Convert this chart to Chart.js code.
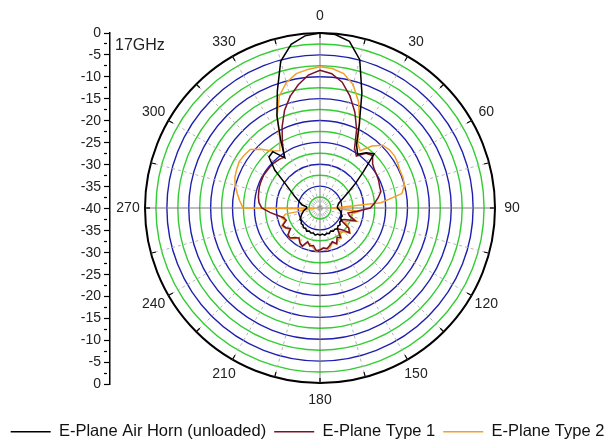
<!DOCTYPE html>
<html>
<head>
<meta charset="utf-8">
<script src="https://cdn.jsdelivr.net/npm/chart.js@4.4.1/dist/chart.umd.min.js"></script>
<style>
html,body{margin:0;padding:0;background:#fff;}
#wrap{width:615px;height:443px;position:relative;}
</style>
</head>
<body>
<div id="wrap"><canvas id="c"></canvas></div>
<script>
// Angle categories (degrees, clockwise from top)
const ANGLES = [0,5,10,15,20,25,30,35,40,45,50,55,60,65,70,75,80,85,90,95,100,105,110,115,120,125,130,135,140,145,150,155,160,165,170,175,180,185,190,195,200,205,210,215,220,225,230,235,240,245,250,255,260,265,270,275,280,285,290,295,300,305,310,315,320,325,330,335,340,345,350,355];
// Angles that carry a label around the dial
const ANGLE_LABELS = [0,30,60,90,120,150,180,210,240,270,300,330];
const SERIES_NAMES = ['E-Plane Air Horn (unloaded)', 'E-Plane Type 1', 'E-Plane Type 2'];
const FREQ_LABEL = '17GHz';

// dB values, one per angle in ANGLES
const AIR_HORN = [0,-0.2,-1.3,-4.9,-12,-18.7,-23.3,-25,-23.5,-22.5,-27,-30,-32.3,-33.8,-34.8,-35.5,-35.8,-36,-36,-35.6,-35.2,-35,-34.6,-34.8,-34.3,-34.5,-34,-34.2,-33.8,-34.1,-33.9,-34.2,-33.8,-34,-33.7,-34,-33.8,-34,-33.7,-34.1,-33.9,-34.2,-33.9,-34.3,-34.1,-34.5,-34.4,-34.8,-34.7,-35.2,-35.5,-35.9,-36.2,-36.6,-37,-36.9,-35.8,-35.3,-34.6,-33.6,-32.3,-30.3,-26.5,-23.5,-23.2,-26,-22,-16.7,-11.5,-5.3,-2,-0.5];
const TYPE1 = [-8.5,-9.2,-10.8,-13.5,-16.7,-20.2,-24.2,-25.5,-23.7,-23,-24.3,-24.8,-25,-25.2,-25.5,-25.6,-26.5,-27.5,-28.5,-31.5,-33.5,-33,-31.5,-33.8,-34.5,-32,-31.2,-33,-33.8,-31.8,-32.2,-31,-31.8,-31.2,-30.6,-30.8,-30.4,-30.2,-31.3,-31,-31.8,-30.4,-30.8,-31.6,-31.2,-30.3,-30.4,-31.8,-31,-30.6,-31.8,-31.4,-30.2,-28.5,-26.7,-26,-25.7,-25.5,-25.3,-25.2,-25.1,-25.2,-25.2,-25.3,-25.5,-25.8,-22.8,-19.5,-16.3,-13.6,-11.4,-9.5];
const TYPE2 = [-7.7,-8,-8.8,-10.8,-14.2,-18.6,-22.8,-24,-21.5,-19.7,-19.3,-19.2,-19.5,-19.8,-19.8,-20,-21,-26,-37,-31,-32.5,-32.8,-31,-33,-33.5,-31.8,-31,-32.2,-33,-31.5,-31.8,-30.8,-31.6,-30.8,-30.2,-30.9,-30.6,-30,-30.8,-31.4,-31.5,-30.2,-30.9,-31.8,-30.8,-30.1,-30.6,-31.5,-30.8,-30.3,-31.5,-31,-32,-38,-22.4,-21.6,-20.8,-19.9,-19.3,-19,-18.7,-18.9,-19.2,-21,-23,-24,-21.6,-16.8,-12.8,-10.3,-8.8,-8.2];

const FONT = "'Liberation Sans', Arial, sans-serif";
Chart.defaults.font.family = FONT;
Chart.defaults.color = '#222';

const BLUE = '#1f1fae';
const GREEN = '#33cc33';

const decor = {
  id: 'decor',
  beforeDatasetsDraw(chart) {
    const s = chart.scales.r;
    const ctx = chart.ctx;
    ctx.save();
    ctx.strokeStyle = '#000';
    ctx.lineWidth = 1.2;
    ANGLES.forEach((a, i) => {
      if (a % 15 !== 0) return;
      const p1 = s.getPointPosition(i, s.drawingArea);
      const p0 = s.getPointPosition(i, s.drawingArea - 5);
      ctx.beginPath();
      ctx.moveTo(p0.x, p0.y);
      ctx.lineTo(p1.x, p1.y);
      ctx.stroke();
    });
    ctx.restore();
  },
  afterDraw(chart) {
    const s = chart.scales.r;
    const ctx = chart.ctx;
    ctx.save();
    ctx.fillStyle = '#222';
    ctx.font = '14px ' + FONT;
    ctx.textAlign = 'center';
    ctx.textBaseline = 'middle';
    ANGLE_LABELS.forEach(a => {
      const i = ANGLES.indexOf(a);
      const p = s.getPointPosition(i, s.drawingArea + 17);
      ctx.fillText(String(a), p.x, p.y);
    });
    ctx.font = '16px ' + FONT;
    ctx.textAlign = 'left';
    ctx.textBaseline = 'alphabetic';
    ctx.fillText(FREQ_LABEL, chart.chartArea.left + 5, chart.chartArea.top + 17);
    ctx.restore();
  }
};

const mk = (label, data, color) => ({
  label, data, borderColor: color, backgroundColor: color,
  borderWidth: 1.5, pointRadius: 0, pointHoverRadius: 0, fill: false, tension: 0, clip: false
});

new Chart(document.getElementById('c'), {
  type: 'radar',
  data: {
    labels: ANGLES,
    datasets: [
      mk(SERIES_NAMES[0], AIR_HORN, '#000000'),
      mk(SERIES_NAMES[1], TYPE1, '#7a1228'),
      mk(SERIES_NAMES[2], TYPE2, '#f2a02a')
    ]
  },
  plugins: [decor],
  options: {
    responsive: true,
    maintainAspectRatio: false,
    animation: false,
    devicePixelRatio: 1,
    layout: { padding: { top: 33, left: 0, right: 0, bottom: -7 } },
    plugins: {
      tooltip: { enabled: false },
      legend: {
        display: true,
        position: 'bottom',
        labels: {
          usePointStyle: true,
          pointStyle: 'line',
          pointStyleWidth: 40,
          padding: 8,
          color: '#111',
          font: { size: 16.5 }
        }
      }
    },
    scales: {
      r: {
        min: -40, max: 0, startAngle: 0,
        ticks: { display: false, stepSize: 2.5 },
        pointLabels: { display: false },
        grid: {
          circular: true,
          color: c => {
            const v = c.tick ? c.tick.value : -40;
            if (v === 0) return '#000';
            return (Math.abs(v) % 5 === 0) ? BLUE : GREEN;
          },
          lineWidth: c => (c.tick && c.tick.value === 0) ? 2 : 1.4
        },
        angleLines: {
          display: true,
          color: c => {
            const a = ANGLES[c.index];
            if (a % 90 === 0) return '#7a7a7a';
            return a % 15 === 0 ? '#b4b4b4' : 'rgba(0,0,0,0)';
          },
          lineWidth: c => (ANGLES[c.index] % 15 === 0 ? 1 : 0),
          borderDash: c => (ANGLES[c.index] % 90 === 0 ? [] : [3, 3])
        }
      },
      y: {
        type: 'linear', axis: 'y', position: 'left',
        min: -40, max: 40,
        afterFit: s => { s.width = 110; },
        ticks: {
          stepSize: 2.5, autoSkip: false, padding: 3, color: '#222',
          font: { size: 14 },
          callback: v => (Math.abs(v) % 5 === 0 ? String(Math.abs(v) - 40) : '')
        },
        grid: {
          drawOnChartArea: false, drawTicks: true, tickLength: 6,
          tickColor: '#000', tickWidth: 1.2,
          tickBorderDash: c => (c.tick && Math.abs(c.tick.value) % 5 !== 0) ? [3, 20] : []
        },
        border: { display: true, color: '#000', width: 1.5 }
      },
      yRight: {
        type: 'linear', axis: 'y', position: 'right', min: 0, max: 1,
        afterFit: s => { s.width = 85; },
        ticks: { display: false }, grid: { display: false }, border: { display: false }
      },
      xPad: {
        type: 'linear', axis: 'x', position: 'bottom', min: 0, max: 1,
        afterFit: s => { s.height = 31; },
        ticks: { display: false }, grid: { display: false }, border: { display: false }
      }
    }
  }
});
</script>
</body>
</html>
